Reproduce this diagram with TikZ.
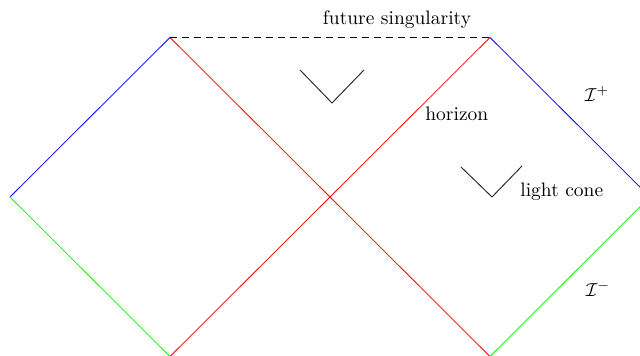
\documentclass[tikz,border=0pt]{standalone}
\begin{document}
\begin{tikzpicture}[x=0.01875cm,y=-0.01875cm,
  lbl/.style={inner sep=0pt, font=\fontsize{10.4}{12}\selectfont},
  cone/.style={draw=black!85, line width=0.5pt}]
\useasboundingbox (0,0) rectangle (640,356);
\begin{scope}
\clip (0,0) rectangle (640,356);
\coordinate (L) at (10,197);
\coordinate (TL) at (170,37.5);
\coordinate (BL) at (170,356.5);
\coordinate (TR) at (490,37.5);
\coordinate (BR) at (490,356.5);
\coordinate (R) at (650,197);
\draw[blue] (L) -- (TL);
\draw[green] (L) -- (BL);
\draw[red] (TL) -- (BR);
\draw[red] (BL) -- (TR);
\draw[blue] (TR) -- (R);
\draw[green] (BR) -- (R);
\draw[line width=0.8pt, dash pattern=on 3.8pt off 2.6pt] (TL) -- (TR);
\end{scope}
% light cones
\coordinate (c1) at (332,103);
\coordinate (c1a) at (300,70);
\coordinate (c1b) at (364,70);
\draw[cone] (c1a) -- (c1) -- (c1b);
\coordinate (c2) at (492,197);
\coordinate (c2a) at (461,167);
\coordinate (c2b) at (522,166);
\draw[cone] (c2a) -- (c2) -- (c2b);
% labels
\node[lbl] (fs) at (397,20) {future singularity};
\node[lbl, anchor=west] (hz) at (425,114) {horizon};
\node[lbl, anchor=west] (lc) at (520,192) {light cone};
\node[lbl] (ip) at (597,94) {$\mathcal{I}^+$};
\node[lbl] (im) at (598,289) {$\mathcal{I}^-$};
\end{tikzpicture}
\end{document}
